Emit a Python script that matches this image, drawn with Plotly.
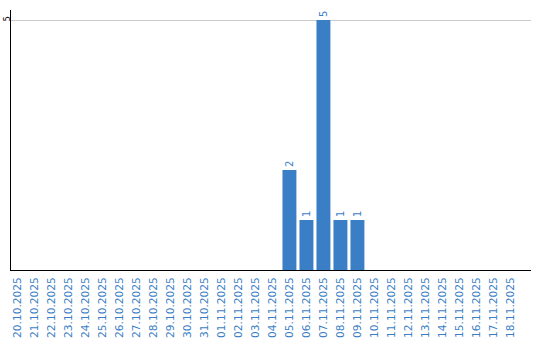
import plotly.graph_objects as go

dates = ["20.10.2025", "21.10.2025", "22.10.2025", "23.10.2025", "24.10.2025",
         "25.10.2025", "26.10.2025", "27.10.2025", "28.10.2025", "29.10.2025",
         "30.10.2025", "31.10.2025", "01.11.2025", "02.11.2025", "03.11.2025",
         "04.11.2025", "05.11.2025", "06.11.2025", "07.11.2025", "08.11.2025",
         "09.11.2025", "10.11.2025", "11.11.2025", "12.11.2025", "13.11.2025",
         "14.11.2025", "15.11.2025", "16.11.2025", "17.11.2025", "18.11.2025"]
counts = [0, 0, 0, 0, 0, 0, 0, 0, 0, 0,
          0, 0, 0, 0, 0, 0, 2, 1, 5, 1,
          1, 0, 0, 0, 0, 0, 0, 0, 0, 0]
y_ticks = [5]

blue = "#3a7ec5"
labels = [str(v) if v else "" for v in counts]

fig = go.Figure(go.Bar(
    x=dates, y=counts, text=labels, textposition="outside", textangle=-90,
    cliponaxis=False, width=0.82,
    marker=dict(color=blue, line=dict(width=0)),
    textfont=dict(family="DejaVu Sans", size=10, color=blue),
    hoverinfo="skip"))

fig.update_layout(
    width=540, height=340, margin=dict(l=11, r=9, t=10, b=70),
    paper_bgcolor="white", plot_bgcolor="white", showlegend=False,
    xaxis=dict(type="category", range=[-0.38, 30.21], showgrid=False, automargin=False,
               showline=True, linecolor="black", linewidth=1,
               tickangle=-90, ticks="", ticklabelstandoff=2,
               tickfont=dict(family="DejaVu Sans", size=10.6, color=blue)),
    yaxis=dict(range=[0, 5.2], tickvals=y_ticks, showgrid=True, gridcolor="#cccccc",
               gridwidth=1, showline=True, linecolor="black", linewidth=1, automargin=False,
               zeroline=False, ticks="", tickangle=-90, ticklabelstandoff=-3,
               tickfont=dict(family="DejaVu Sans", size=8, color="black")),
)
fig.write_html("out.html")
